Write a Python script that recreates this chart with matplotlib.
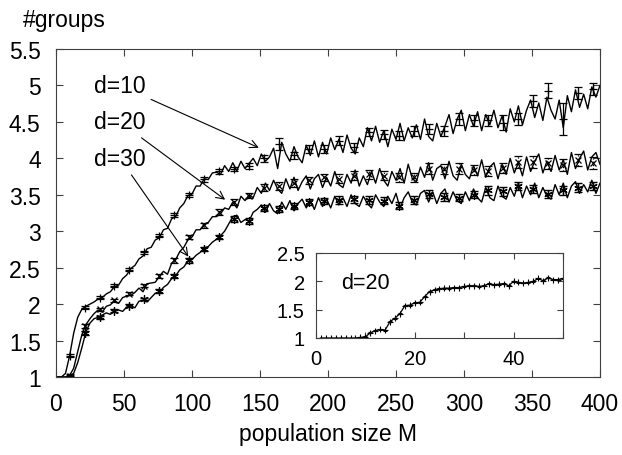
import numpy as np
import matplotlib
matplotlib.use("Agg")
import matplotlib.pyplot as plt
from matplotlib.ticker import FormatStrFormatter

plt.rcParams['font.family'] = ['Liberation Sans', 'DejaVu Sans']

# population size grid of the curves (every 3rd M)
M = np.arange(1, 401, 3)

d10 = [1.00, 1.00, 1.05, 1.29, 1.60, 1.82, 1.93, 1.97, 2.00, 2.03,
       2.07, 2.09, 2.14, 2.17, 2.24, 2.26, 2.35, 2.40, 2.49, 2.53,
       2.62, 2.66, 2.76, 2.78, 2.88, 2.91, 3.02, 3.04, 3.17, 3.20,
       3.32, 3.38, 3.49, 3.51, 3.62, 3.62, 3.72, 3.71, 3.80, 3.81,
       3.78, 3.90, 3.82, 3.94, 3.83, 3.96, 3.86, 3.93, 4.00, 3.90,
       4.06, 3.96, 4.02, 4.14, 3.86, 4.22, 4.06, 3.96, 4.16, 4.02,
       3.94, 4.18, 4.04, 4.24, 4.02, 4.22, 4.06, 4.28, 4.12, 4.26,
       4.08, 4.32, 4.14, 4.06, 4.28, 4.16, 4.42, 4.24, 4.44, 4.22,
       4.38, 4.16, 4.40, 4.26, 4.48, 4.24, 4.42, 4.28, 4.46, 4.26,
       4.54, 4.30, 4.24, 4.48, 4.30, 4.44, 4.60, 4.34, 4.54, 4.66,
       4.38, 4.60, 4.44, 4.64, 4.38, 4.60, 4.46, 4.66, 4.42, 4.58,
       4.36, 4.68, 4.50, 4.72, 4.46, 4.66, 4.80, 4.56, 4.76, 4.52,
       4.84, 4.66, 4.54, 4.80, 4.42, 4.86, 4.64, 4.94, 4.70, 4.88,
       4.68, 4.98, 4.84, 5.00]

d20 = [1.00, 1.00, 1.00, 1.02, 1.12, 1.35, 1.58, 1.72, 1.80, 1.87,
       1.92, 1.89, 1.97, 1.99, 2.05, 2.01, 2.09, 2.11, 2.12, 2.16,
       2.22, 2.17, 2.28, 2.29, 2.30, 2.38, 2.45, 2.41, 2.56, 2.61,
       2.72, 2.78, 2.88, 2.92, 3.02, 3.02, 3.10, 3.12, 3.20, 3.20,
       3.24, 3.32, 3.30, 3.40, 3.32, 3.48, 3.42, 3.50, 3.46, 3.60,
       3.52, 3.66, 3.56, 3.70, 3.58, 3.52, 3.72, 3.58, 3.74, 3.56,
       3.68, 3.76, 3.58, 3.72, 3.78, 3.60, 3.74, 3.62, 3.82, 3.64,
       3.60, 3.78, 3.66, 3.84, 3.62, 3.76, 3.64, 3.82, 3.66, 3.86,
       3.70, 3.62, 3.82, 3.70, 3.86, 3.66, 3.92, 3.72, 3.68, 3.88,
       3.74, 3.94, 3.70, 3.86, 3.90, 3.72, 3.96, 3.76, 3.70, 3.92,
       3.78, 3.72, 3.90, 3.76, 3.98, 3.74, 3.88, 3.94, 3.72, 3.92,
       3.78, 4.00, 3.80, 3.94, 3.76, 4.02, 3.82, 3.96, 4.06, 3.80,
       3.96, 3.82, 4.04, 3.84, 3.98, 3.78, 4.08, 3.86, 4.00, 4.10,
       3.84, 4.02, 4.08, 3.92]

d30 = [1.00, 1.00, 1.00, 1.00, 1.05, 1.20, 1.40, 1.62, 1.74, 1.80,
       1.82, 1.85, 1.88, 1.86, 1.91, 1.92, 1.90, 1.96, 1.98, 1.95,
       2.04, 2.05, 2.03, 2.09, 2.15, 2.15, 2.23, 2.27, 2.35, 2.39,
       2.47, 2.51, 2.59, 2.61, 2.67, 2.71, 2.77, 2.79, 2.85, 2.89,
       2.94, 3.00, 3.10, 3.20, 3.22, 3.12, 3.16, 3.14, 3.26, 3.30,
       3.36, 3.26, 3.38, 3.28, 3.24, 3.40, 3.30, 3.42, 3.28, 3.38,
       3.44, 3.32, 3.42, 3.30, 3.46, 3.34, 3.44, 3.32, 3.48, 3.36,
       3.46, 3.34, 3.50, 3.38, 3.34, 3.48, 3.38, 3.32, 3.50, 3.40,
       3.34, 3.48, 3.38, 3.52, 3.32, 3.46, 3.54, 3.40, 3.36, 3.52,
       3.56, 3.40, 3.54, 3.38, 3.52, 3.58, 3.40, 3.54, 3.42, 3.38,
       3.54, 3.42, 3.58, 3.46, 3.40, 3.60, 3.46, 3.42, 3.62, 3.48,
       3.44, 3.60, 3.48, 3.66, 3.46, 3.62, 3.50, 3.66, 3.46, 3.60,
       3.48, 3.44, 3.64, 3.50, 3.66, 3.46, 3.62, 3.68, 3.52, 3.64,
       3.54, 3.70, 3.52, 3.66]

# points with error bars (every 11th M)
M_err = np.arange(10, 400, 11)
d10_pts = [1.29, 1.95, 2.09, 2.25, 2.47, 2.71, 2.94, 3.22, 3.50, 3.71,
           3.82, 3.85, 3.90, 4.00, 4.20, 4.04, 4.13, 4.13, 4.24, 4.15,
           4.36, 4.33, 4.31, 4.37, 4.40, 4.38, 4.54, 4.52, 4.52, 4.49,
           4.54, 4.79, 4.93, 4.54, 4.90, 4.95]
d10_err = [0.02, 0.02, 0.02, 0.02, 0.02, 0.02, 0.02, 0.03, 0.03, 0.03,
           0.03, 0.03, 0.04, 0.05, 0.08, 0.05, 0.05, 0.05, 0.06, 0.06,
           0.06, 0.06, 0.06, 0.07, 0.07, 0.07, 0.08, 0.08, 0.08, 0.10,
           0.08, 0.08, 0.10, 0.22, 0.08, 0.08]
d20_pts = [1.02, 1.70, 1.93, 2.05, 2.14, 2.25, 2.39, 2.60, 2.92, 3.08,
           3.26, 3.40, 3.49, 3.60, 3.62, 3.66, 3.70, 3.74, 3.72, 3.76,
           3.78, 3.76, 3.74, 3.74, 3.86, 3.85, 3.86, 3.84, 3.83, 3.87,
           3.95, 3.95, 3.93, 3.91, 3.98, 3.94]
d20_err = [0.02, 0.03, 0.02, 0.02, 0.02, 0.02, 0.03, 0.03, 0.03, 0.03,
           0.04, 0.04, 0.04, 0.05, 0.05, 0.05, 0.05, 0.05, 0.06, 0.06,
           0.06, 0.06, 0.06, 0.06, 0.07, 0.07, 0.07, 0.07, 0.07, 0.07,
           0.08, 0.08, 0.08, 0.08, 0.08, 0.08]
d30_pts = [1.00, 1.60, 1.82, 1.91, 1.98, 2.07, 2.18, 2.39, 2.60, 2.76,
           2.92, 3.17, 3.14, 3.32, 3.30, 3.35, 3.40, 3.42, 3.43, 3.44,
           3.43, 3.42, 3.35, 3.43, 3.51, 3.47, 3.46, 3.50, 3.56, 3.55,
           3.62, 3.58, 3.51, 3.56, 3.60, 3.62]
d30_err = [0.02, 0.03, 0.02, 0.02, 0.02, 0.02, 0.03, 0.03, 0.03, 0.03,
           0.03, 0.04, 0.04, 0.04, 0.04, 0.04, 0.04, 0.04, 0.05, 0.05,
           0.05, 0.05, 0.05, 0.05, 0.05, 0.05, 0.05, 0.05, 0.06, 0.06,
           0.06, 0.06, 0.06, 0.06, 0.06, 0.06]

# inset: d=20, small M
M_in = np.arange(1, 51)
d20_small = [1.00, 1.00, 1.00, 1.00, 1.00, 1.00, 1.00, 1.00, 1.01, 1.02,
             1.09, 1.13, 1.15, 1.14, 1.29, 1.35, 1.43, 1.57, 1.58, 1.62,
             1.63, 1.73, 1.82, 1.85, 1.87, 1.88, 1.88, 1.89, 1.89, 1.91,
             1.92, 1.92, 1.91, 1.92, 1.96, 1.94, 1.95, 1.96, 1.92, 2.00,
             1.98, 1.97, 1.98, 2.00, 2.05, 2.01, 2.06, 2.03, 2.03, 2.05]

fs = 16.5

fig = plt.figure(figsize=(6.22, 4.56), dpi=100)
ax = fig.add_axes([0.090, 0.171, 0.8746, 0.7193])

ax.plot(M, d10, color='black', lw=1.0)
ax.plot(M, d20, color='black', lw=1.0)
ax.plot(M, d30, color='black', lw=1.0)
ax.errorbar(M_err, d10_pts, yerr=d10_err, fmt='+', color='black', ms=6,
            mew=0.9, elinewidth=0.9, capsize=3)
e20 = ax.errorbar(M_err, d20_pts, yerr=d20_err, fmt='x', color='black', ms=5,
                  mew=0.9, elinewidth=0.9, capsize=3)
for c in e20[2]:
    c.set_linestyle(':')
ax.errorbar(M_err, d30_pts, yerr=d30_err, fmt='none', color='black',
            elinewidth=0.9, capsize=3)
ax.plot(M_err, d30_pts, ls='none', marker=(6, 2, 0), color='black', ms=6, mew=0.9)

ax.set_xlim(0, 400)
ax.set_ylim(1, 5.5)
ax.set_xticks(np.arange(0, 401, 50))
ax.set_yticks(np.arange(1, 5.51, 0.5))
ax.yaxis.set_major_formatter(FormatStrFormatter('%g'))
ax.tick_params(direction='in', length=5, top=True, right=True, labelsize=fs,
               pad=11, color='#404040')
for s in ax.spines.values():
    s.set_color('#404040')

arrow = dict(arrowstyle='->', color='black', lw=0.8, mutation_scale=14)
ax.annotate('d=10', xy=(151, 4.13), xytext=(66, 5.0), fontsize=fs,
            ha='right', va='center', arrowprops=arrow)
ax.annotate('d=20', xy=(126, 3.41), xytext=(66, 4.5), fontsize=fs,
            ha='right', va='center', arrowprops=arrow)
ax.annotate('d=30', xy=(98.5, 2.62), xytext=(66, 4.0), fontsize=fs,
            ha='right', va='center', arrowprops=arrow)

fig.text(0.037, 1 - 27 / 456, '#groups', fontsize=fs, va='baseline')
fig.text(328 / 622, 1 - 441 / 456, 'population size M', fontsize=fs,
         ha='center', va='baseline')

# inset
ins = fig.add_axes([0.508, 0.2566, 0.397, 0.1864])
ins.errorbar(M_in, d20_small, yerr=0.008, fmt='-', marker='+', color='black',
             lw=0.9, ms=4, mew=0.8, capsize=1.5, elinewidth=0.8)
ins.set_xlim(0, 50)
ins.set_ylim(1, 2.5)
ins.set_xticks([0, 10, 20, 30, 40, 50])
ins.set_xticklabels(['0', '', '20', '', '40', ''])
ins.set_yticks([1, 1.5, 2, 2.5])
ins.yaxis.set_major_formatter(FormatStrFormatter('%g'))
ins.tick_params(direction='in', length=4, top=True, right=True, labelsize=14.5,
                pad=8, color='#404040')
for s in ins.spines.values():
    s.set_color('#404040')
ins.text(5, 1.98, 'd=20', fontsize=15.5, ha='left', va='center')

fig.savefig('out.png', dpi=100)
